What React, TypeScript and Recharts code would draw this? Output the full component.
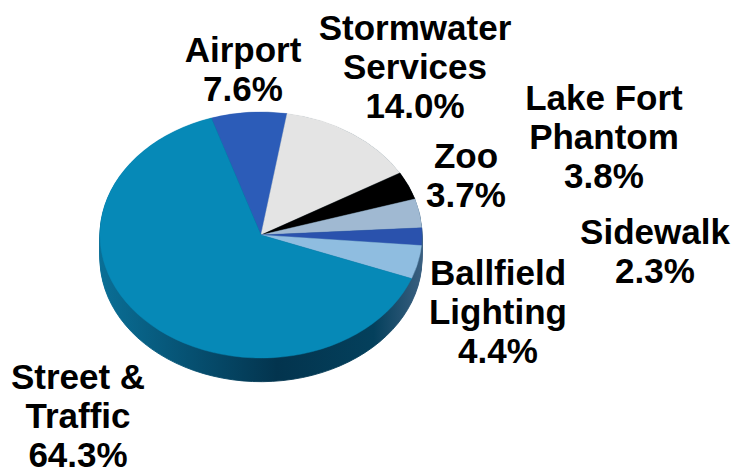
import { PieChart, Pie, Cell } from "recharts";

const categories = ["Airport", "Stormwater Services", "Zoo", "Lake Fort Phantom", "Sidewalk", "Ballfield Lighting", "Street & Traffic"];
const shares = [7.6, 14.0, 3.7, 3.8, 2.3, 4.4, 64.3];
const sliceColors = ["#2c5cb8", "#e4e4e4", "#000000", "#a0b9d2", "#2a52ad", "#8fbde0", "#0689b7"];
const depthSteps = [31, 29, 27, 25, 23, 21, 19, 17, 15, 13, 11, 9, 7, 5, 3, 1];

const labelLines = [
  ["Airport", "7.6%"],
  ["Stormwater", "Services", "14.0%"],
  ["Zoo", "3.7%"],
  ["Lake Fort", "Phantom", "3.8%"],
  ["Sidewalk", "2.3%"],
  ["Ballfield", "Lighting", "4.4%"],
  ["Street &", "Traffic", "64.3%"],
];
const labelCenterX = [243, 415, 466, 604, 655, 498, 78];
const labelTop = [30, 8, 136, 78, 212, 253, 357];

const data = categories.map((name, i) => ({ name, value: shares[i] }));

const CHART_W = 360;
const CHART_H = 400;
const CX = 180;
const CY = 200;
const RADIUS = 161;
const FLATTEN = 0.764;

export default function App() {
  return (
    <div style={{ position: "absolute", left: 0, top: 0, width: 732, height: 473, background: "#fff", overflow: "hidden" }}>
      <div
        style={{
          position: "absolute",
          left: 261 - CX,
          top: 235 - CY,
          transform: `scaleY(${FLATTEN})`,
          transformOrigin: `${CX}px ${CY}px`,
        }}
      >
        <PieChart width={CHART_W} height={CHART_H} margin={{ top: 0, right: 0, bottom: 0, left: 0 }}>
          <defs>
            <linearGradient id="side" gradientUnits="userSpaceOnUse" x1={CX - RADIUS} y1="0" x2={CX + RADIUS} y2="0">
              <stop offset="0" stopColor="#0a6f96" />
              <stop offset="0.2" stopColor="#07597c" />
              <stop offset="0.55" stopColor="#03344e" />
              <stop offset="0.85" stopColor="#04405c" />
              <stop offset="1" stopColor="#3a5f80" />
            </linearGradient>
          </defs>
          {depthSteps.map((d) => (
            <Pie
              key={d}
              data={data}
              dataKey="value"
              cx={CX}
              cy={CY + d}
              outerRadius={RADIUS}
              startAngle={108}
              endAngle={-252}
              fill="url(#side)"
              stroke="url(#side)"
              strokeWidth={1}
              isAnimationActive={false}
              label={false}
              labelLine={false}
            />
          ))}
          <Pie
            data={data}
            dataKey="value"
            cx={CX}
            cy={CY}
            outerRadius={RADIUS}
            startAngle={108}
            endAngle={-252}
            strokeWidth={0.5}
            isAnimationActive={false}
            label={false}
            labelLine={false}
          >
            {categories.map((name, i) => (
              <Cell key={name} fill={sliceColors[i]} stroke={sliceColors[i]} />
            ))}
          </Pie>
        </PieChart>
      </div>
      {labelLines.map((lines, i) => (
        <div
          key={categories[i]}
          style={{
            position: "absolute",
            left: labelCenterX[i] - 120,
            top: labelTop[i],
            width: 240,
            textAlign: "center",
            fontFamily: "'Liberation Sans', Arial, sans-serif",
            fontWeight: 700,
            fontSize: 35,
            lineHeight: "39px",
            color: "#000",
          }}
        >
          {lines.map((l) => (
            <div key={l}>{l}</div>
          ))}
        </div>
      ))}
    </div>
  );
}
